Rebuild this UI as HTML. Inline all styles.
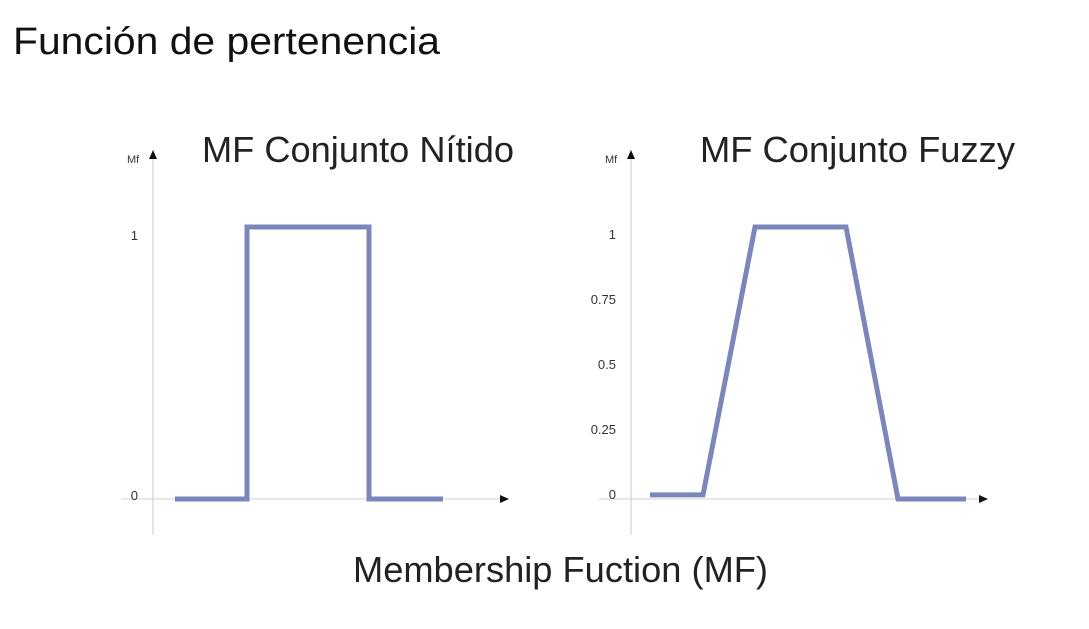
<!DOCTYPE html>
<html><head><meta charset="utf-8"><style>
body{margin:0;background:#fff;width:1089px;height:624px;overflow:hidden;font-family:"Liberation Sans",sans-serif}
</style></head><body>
<svg width="1089" height="624" xmlns="http://www.w3.org/2000/svg">
<text x="13" y="54" font-size="38" textLength="427" lengthAdjust="spacingAndGlyphs" fill="#111">Función de pertenencia</text>
<text x="202" y="162" font-size="36" textLength="312" lengthAdjust="spacingAndGlyphs" fill="#222">MF Conjunto Nítido</text>
<text x="700" y="162" font-size="36" textLength="315" lengthAdjust="spacingAndGlyphs" fill="#222">MF Conjunto Fuzzy</text>
<text x="353" y="582" font-size="36" textLength="415" lengthAdjust="spacingAndGlyphs" fill="#222">Membership Fuction (MF)</text>
<g id="left"></g>
<g id="right"></g>
</svg>
<script>
const crispX=[2.2,9.4,9.4,21.6,21.6,29];
const crispY=[0,0,1,1,0,0];
const crispTicks=["0","1"];
const crispTickVals=[0,1];
const fuzzyX=[1.9,7.2,12.4,21.5,26.7,33.5];
const fuzzyY=[0.015,0.015,1,1,0,0];
const fuzzyTicks=["0","0.25","0.5","0.75","1"];
const fuzzyTickVals=[0,0.25,0.5,0.75,1];
const NS="http://www.w3.org/2000/svg";
function mk(t,a,p){const e=document.createElementNS(NS,t);for(const k in a)e.setAttribute(k,a[k]);p.appendChild(e);return e;}
function draw(g,ax,xEnd,xs,ys,ticks,tv,tickPos){
  const x=v=>ax+v*10, y=v=>499-272*v;
  let e=mk('line',{x1:ax,y1:152,x2:ax,y2:535,stroke:'#c8c8c8','stroke-width':1},g);
  
  
  e=mk('line',{x1:ax-32,y1:499,x2:xEnd,y2:499,stroke:'#d0d0d0','stroke-width':1},g);
  
  
  e=mk('polygon',{points:`${ax-4},159 ${ax+4},159 ${ax},150`,fill:'#111'},g);
  
  
  e=mk('polygon',{points:`${xEnd},495 ${xEnd},503 ${xEnd+9},499`,fill:'#111'},g);
  
  
  e=mk('text',{x:ax-26,y:163,'font-size':11,fill:'#333'},g);e.textContent='Mf';
  
  
  ticks.forEach((t,i)=>{
    const ty=tickPos(tv[i]);
    const te=mk('text',{x:ax-15,y:ty,'font-size':13,fill:'#333','text-anchor':'end'},g);
    te.textContent=t;
    
    
  });
  const pts=xs.map((v,i)=>x(v)+','+y(ys[i])).join(' ');
  e=mk('polyline',{points:pts,fill:'none',stroke:'#7b86bb','stroke-width':5,'stroke-linejoin':'miter'},g);
  
  
}
draw(document.getElementById('left'),153,500,crispX,crispY,crispTicks,crispTickVals,v=>v===1?240:500);
draw(document.getElementById('right'),631,979,fuzzyX,fuzzyY,fuzzyTicks,fuzzyTickVals,v=>499-260*v);
</script>
</body></html>
